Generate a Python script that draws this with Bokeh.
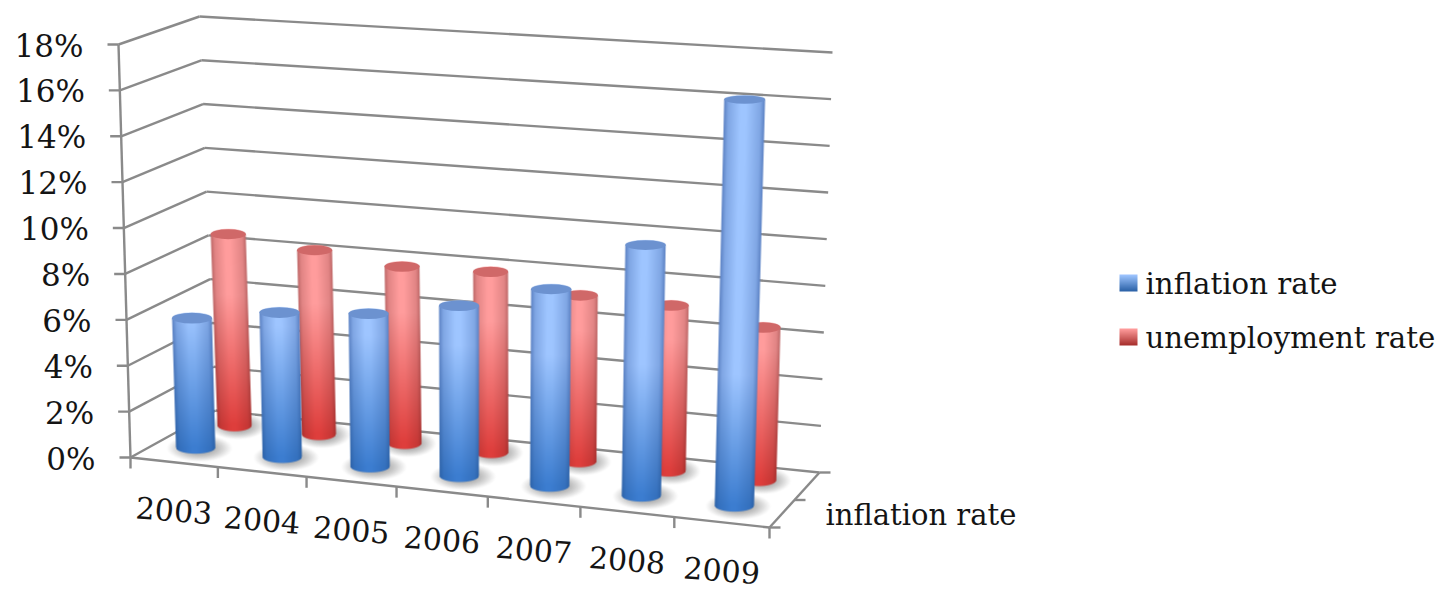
import numpy as np
from bokeh.plotting import figure
from bokeh.models import Range1d
from bokeh.core.properties import value
from bokeh.embed import file_html
from bokeh.resources import INLINE

years = ["2003", "2004", "2005", "2006", "2007", "2008", "2009"]
inflation = [5.7, 6.3, 6.6, 7.3, 8.35, 10.55, 16.95]
unemployment = [8.6, 8.2, 7.8, 7.9, 7.2, 7.1, 6.5]
y_ticks = [0, 2, 4, 6, 8, 10, 12, 14, 16, 18]
y_tick_labels = ["0%", "2%", "4%", "6%", "8%", "10%", "12%", "14%", "16%", "18%"]
series_names = ["inflation rate", "unemployment rate"]
depth_label = "inflation rate"

W, H = 1449, 589
FONT = "DejaVu Serif"
GRID = "#8a8a8a"
TXT = "#141414"
FS = "29px"
FS_NUM = "31px"
FS_YEAR = "30px"

# projection frame of the 3-D box (u along categories, v into depth, w value)
C = {(0,0,0):(130,457),(0,0,1):(118,44),(0,1,0):(215,410),(0,1,1):(199,16),
     (1,0,0):(769,527),(1,0,1):(782,88),(1,1,0):(819,472),(1,1,1):(832,52)}

def warp(t):
    return t*(0.95+0.05*t)

def proj(u, v, val):
    w = val/18.0
    x = y = 0.0
    for (a,b,c),(px,py) in C.items():
        k = (u if a else 1-u)*(v if b else 1-v)*(w if c else 1-w)
        x += k*px; y += k*py
    return x, y

p = figure(width=W, height=H, x_range=Range1d(0, W), y_range=Range1d(-H, 0),
           output_backend="svg", toolbar_location=None, min_border=0)
p.axis.visible = False
p.grid.visible = False
p.outline_line_color = None
p.background_fill_color = "white"

def seg(a, b, lw=2.4, color=GRID):
    p.line([a[0], b[0]], [-a[1], -b[1]], line_color=color, line_width=lw)

# walls
for t in y_ticks:
    fl = proj(0,0,t); bl = proj(0,1,t); br = proj(1,1,t)
    seg(fl, bl); seg(bl, br)
    seg((fl[0]-11, fl[1]), fl)
    p.text([fl[0]-35], [-fl[1]-1], text=[y_tick_labels[y_ticks.index(t)]],
           text_font=value(FONT), text_font_size=FS_NUM, text_color=TXT,
           text_align="right", text_baseline="middle")
seg(proj(0,0,0), proj(0,0,18))
# floor edges and ticks
seg(proj(0,0,0), proj(1,0,0))
seg(proj(1,0,0), proj(1,1,0))
for i in range(len(years)+1):
    a = proj(warp(i/len(years)),0,0)
    seg(a, (a[0], a[1]+11))
for v in (0, .5, 1):
    a = proj(1,v,0)
    seg(a, (a[0]+11, a[1]))

BLUE = dict(top_mid=(158,197,255), top_edge=(92,130,196), bot_mid=(60,125,208), bot_edge=(44,98,168), cap=(108,146,208))
RED = dict(top_mid=(255,156,156), top_edge=(190,104,104), bot_mid=(222,62,60), bot_edge=(168,48,46), cap=(208,104,104))

def shadow(cx, cy, a, b):
    x0, y0 = int(cx-a*1.1), int(cy-b*1.3)
    w, h = int(a*2.2), int(b*2.6)
    xx, yy = np.meshgrid(np.arange(w)+x0+.5, np.arange(h)+y0+.5)
    d = ((xx-cx)/a)**2+((yy-cy)/b)**2
    al = np.clip(1-d, 0, 1)**1.3*170
    img = np.zeros((h, w, 4), dtype=np.uint8)
    img[...,:3] = 110; img[...,3] = al.astype(np.uint8)
    p.image_rgba(image=[img[::-1].view(np.uint32).reshape(h, w)], x=x0, y=-(y0+h), dw=w, dh=h)

def cylinder(i, val, v, du, pal):
    u = warp((i+.5)/len(years))-0.005
    bot = proj(u, v, 0); top = proj(u, v, val)
    bl = proj(u-du/2, v, 0); br = proj(u+du/2, v, 0)
    tl = proj(u-du/2, v, val); tr = proj(u+du/2, v, val)
    hwb = (br[0]-bl[0])/2; hwt = (tr[0]-tl[0])/2
    bb = 6.0; bt = 6.0-2.0*val/18.0
    shadow(bot[0]+hwb*.2, bot[1]+bb*.1, hwb*1.7, bb*2.3)
    y0 = int(top[1]-bt-2); y1 = int(bot[1]+bb+3)
    x0 = int(min(bot[0]-hwb, top[0]-hwt)-2); x1 = int(max(bot[0]+hwb, top[0]+hwt)+3)
    w, h = x1-x0, y1-y0
    xx, yy = np.meshgrid(np.arange(w)+x0+.5, np.arange(h)+y0+.5)
    f = np.clip((yy-top[1])/(bot[1]-top[1]), 0, 1)
    xc = top[0]+(bot[0]-top[0])*f
    hw = hwt+(hwb-hwt)*f
    s = (xx-xc)/hw
    inside = np.clip((1-np.abs(s))*hw+.5, 0, 1)
    ss = np.sqrt(np.clip(1-s*s, 0, 1))
    ytop = top[1]-bt*ss
    ybot = bot[1]+bb*ss
    a = inside*np.clip(yy-ytop+.5, 0, 1)*np.clip(ybot-yy+.5, 0, 1)
    hs = np.interp(s, [-1,-.78,-.2,.1,.78,1], [.0,.55,1,1,.55,.0])
    vs = np.clip((bot[1]-yy)/130.0, 0, 1)
    tm = np.array(pal["top_mid"]); te = np.array(pal["top_edge"])
    bm = np.array(pal["bot_mid"]); be = np.array(pal["bot_edge"])
    mid = bm+(tm-bm)*vs[...,None]
    edge = be+(te-be)*vs[...,None]
    rgb = edge+(mid-edge)*hs[...,None]
    img = np.zeros((h, w, 4), dtype=np.uint8)
    img[...,:3] = np.clip(rgb, 0, 255).astype(np.uint8)
    img[...,3] = (a*255).astype(np.uint8)
    p.image_rgba(image=[img[::-1].view(np.uint32).reshape(h, w)], x=x0, y=-(y0+h), dw=w, dh=h)
    p.ellipse([top[0]], [-top[1]], width=hwt*2, height=bt*2,
              fill_color="#%02x%02x%02x" % pal["cap"], line_color=None)

for i, val in enumerate(unemployment):
    cylinder(i, val, 0.77, 0.056, RED)
for i, val in enumerate(inflation):
    cylinder(i, val, 0.30, 0.0626, BLUE)

# category labels
for i, y in enumerate(years):
    a = proj(warp((i+.5)/len(years)), 0, 0)
    p.text([a[0]], [-(a[1]+48)], text=[y], text_font=value(FONT), text_font_size=FS_YEAR,
           text_color=TXT, text_align="center", text_baseline="middle", angle=-0.08)
# depth-axis label
a = proj(1, .5, 0)
p.text([a[0]+31], [-(a[1]+15)], text=[depth_label], text_font=value(FONT), text_font_size=FS,
       text_color=TXT, text_align="left", text_baseline="middle")

def swatch(x0, y0, w, h, top, bot):
    t = np.linspace(0, 1, h)[:,None]
    img = np.zeros((h, w, 4), dtype=np.uint8)
    img[...,:3] = (np.array(top)+(np.array(bot)-np.array(top))*t[...,None]).astype(np.uint8)
    img[...,3] = 255
    p.image_rgba(image=[img[::-1].view(np.uint32).reshape(h, w)], x=x0, y=-(y0+h), dw=w, dh=h)

for name, y0, pal in zip(series_names, (274, 328), (BLUE, RED)):
    swatch(1119, y0, 18, 17, pal["top_mid"], pal["bot_edge"])
    p.text([1145], [-(y0+9)], text=[name], text_font=value(FONT), text_font_size="29.2px",
           text_color=TXT, text_align="left", text_baseline="middle")

open("out.html", "w").write(file_html(p, INLINE))
